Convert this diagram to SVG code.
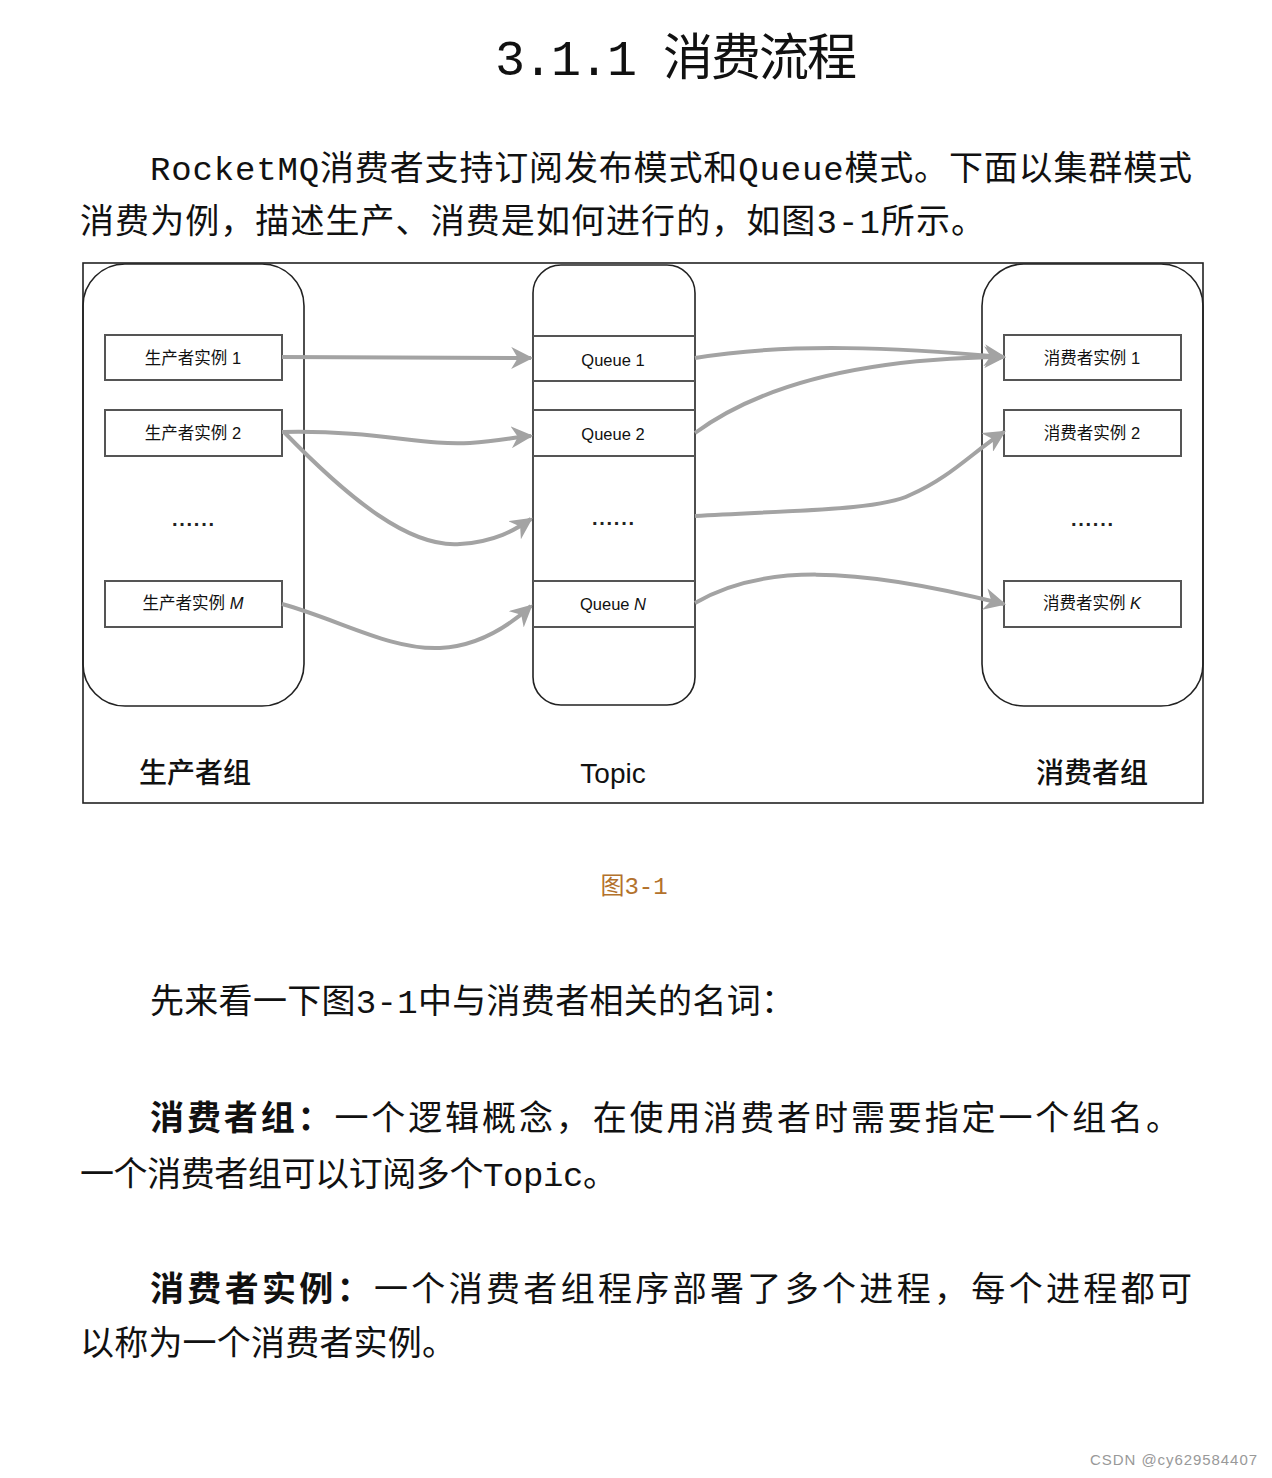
<svg xmlns="http://www.w3.org/2000/svg" width="1272" height="1478" viewBox="0 0 1272 1478">
<style>
.body{font-family:"Liberation Mono","Noto Sans CJK SC",monospace;font-size:34px;fill:#111}
.bold{font-weight:bold}
.grp{fill:none;stroke:#222;stroke-width:1.6}
.inst{fill:#fff;stroke:#555;stroke-width:2}
.ql{stroke:#555;stroke-width:2}
.lbl{font-family:"Liberation Sans","Noto Sans CJK SC",sans-serif;font-size:16.5px;fill:#111;text-anchor:middle}
.glbl{font-family:"Liberation Sans","Noto Sans CJK SC",sans-serif;font-size:28px;font-weight:500;fill:#111;text-anchor:middle}
.dots{font-family:"Liberation Sans",sans-serif;font-size:20px;font-weight:bold;fill:#222;text-anchor:middle}
.arr{fill:none;stroke:#a3a3a3;stroke-width:4;marker-end:url(#ah)}
</style>
<defs>
<marker id="ah" viewBox="0 0 10 10" refX="9" refY="5" markerWidth="5.5" markerHeight="5.5" orient="auto" markerUnits="strokeWidth">
<path d="M0,0 L10,5 L0,10 L3,5 z" fill="#a3a3a3"/>
</marker>
</defs>
<rect width="1272" height="1478" fill="#fff"/>

<g id="title">
<text x="495" y="75" font-family="Liberation Mono,'Noto Sans CJK SC',monospace" font-size="50" fill="#111" textLength="362">3.1.1 消费流程</text>
</g>

<g id="intro">
<text class="body" x="150" y="180" textLength="1042">RocketMQ消费者支持订阅发布模式和Queue模式。下面以集群模式</text>
<text class="body" x="80" y="233" textLength="905">消费为例，描述生产、消费是如何进行的，如图3-1所示。</text>
</g>

<g id="frame">
<rect x="83" y="263" width="1120" height="540" fill="none" stroke="#222" stroke-width="1.6"/>
</g>

<g id="producer-group">
<rect class="grp" x="83" y="264" width="221" height="442" rx="42"/>
<text class="glbl" x="195" y="783">生产者组</text>
</g>
<g id="producer-1">
<rect class="inst" x="105" y="335" width="177" height="45"/>
<text class="lbl" x="193" y="364">生产者实例 1</text>
</g>
<g id="producer-2">
<rect class="inst" x="105" y="410" width="177" height="46"/>
<text class="lbl" x="193" y="439">生产者实例 2</text>
</g>
<g id="producer-dots">
<text class="dots" x="193" y="526" textLength="42">......</text>
</g>
<g id="producer-m">
<rect class="inst" x="105" y="581" width="177" height="46"/>
<text class="lbl" x="193" y="609">生产者实例 <tspan font-style="italic">M</tspan></text>
</g>

<g id="topic">
<rect class="grp" x="533" y="265" width="162" height="440" rx="28"/>
<line class="ql" x1="533" y1="336" x2="695" y2="336"/>
<line class="ql" x1="533" y1="381" x2="695" y2="381"/>
<line class="ql" x1="533" y1="410" x2="695" y2="410"/>
<line class="ql" x1="533" y1="456" x2="695" y2="456"/>
<line class="ql" x1="533" y1="581" x2="695" y2="581"/>
<line class="ql" x1="533" y1="627" x2="695" y2="627"/>
<text class="lbl" x="613" y="366">Queue 1</text>
<text class="lbl" x="613" y="440">Queue 2</text>
<text class="dots" x="613" y="525" textLength="42">......</text>
<text class="lbl" x="613" y="610">Queue <tspan font-style="italic">N</tspan></text>
<text class="glbl" x="613" y="783">Topic</text>
</g>

<g id="consumer-group">
<rect class="grp" x="982" y="264" width="221" height="442" rx="42"/>
<text class="glbl" x="1092" y="783">消费者组</text>
</g>
<g id="consumer-1">
<rect class="inst" x="1004" y="335" width="177" height="45"/>
<text class="lbl" x="1092" y="364">消费者实例 1</text>
</g>
<g id="consumer-2">
<rect class="inst" x="1004" y="410" width="177" height="46"/>
<text class="lbl" x="1092" y="439">消费者实例 2</text>
</g>
<g id="consumer-dots">
<text class="dots" x="1092" y="526" textLength="42">......</text>
</g>
<g id="consumer-k">
<rect class="inst" x="1004" y="581" width="177" height="46"/>
<text class="lbl" x="1092" y="609">消费者实例 <tspan font-style="italic">K</tspan></text>
</g>

<g id="connectors">
<path class="arr" d="M282,357 L531,358"/>
<path class="arr" d="M282,432 C380,430 420,446 470,443 C500,441 515,437 531,436"/>
<path class="arr" d="M284,432 C350,500 410,548 460,544 C495,542 515,530 531,519"/>
<path class="arr" d="M282,604 C340,620 390,650 440,648 C480,646 510,625 531,606"/>
<path class="arr" d="M695,358 C790,342 900,348 1004,357"/>
<path class="arr" d="M695,433 C770,378 880,358 1004,357"/>
<path class="arr" d="M695,516 C800,510 880,510 910,495 C950,478 975,450 1004,432"/>
<path class="arr" d="M695,603 C760,565 850,565 1004,604"/>
</g>

<g id="caption">
<text x="634" y="894" font-family="Liberation Mono,'Noto Sans CJK SC',monospace" font-size="24" fill="#b3722c" text-anchor="middle">图3-1</text>
</g>

<g id="text-body">
<text class="body" x="150" y="1013" textLength="645">先来看一下图3-1中与消费者相关的名词：</text>
<text class="body" x="150" y="1130" textLength="1030"><tspan class="bold">消费者组：</tspan>一个逻辑概念，在使用消费者时需要指定一个组名。</text>
<text class="body" x="80" y="1186" textLength="537">一个消费者组可以订阅多个Topic。</text>
<text class="body" x="150" y="1301" textLength="1042"><tspan class="bold">消费者实例：</tspan>一个消费者组程序部署了多个进程，每个进程都可</text>
<text class="body" x="80" y="1355" textLength="376">以称为一个消费者实例。</text>
</g>

<g id="watermark">
<text x="1090" y="1465" font-family="Liberation Sans,sans-serif" font-size="15" fill="#999" textLength="167">CSDN @cy629584407</text>
</g>
</svg>
